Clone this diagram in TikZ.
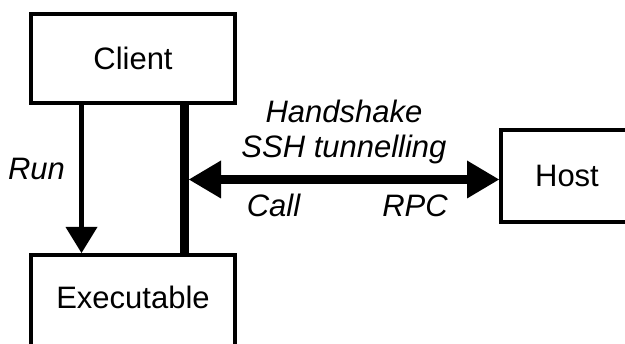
\documentclass[tikz,border=0pt]{standalone}
\usepackage{fontspec}
\setmainfont{Liberation Sans}
\usetikzlibrary{arrows.meta}
\begin{document}
\begin{tikzpicture}[x=1pt,y=1pt,
  every node/.style={font=\fontsize{31}{35}\selectfont},
  box/.style={draw, line width=4pt, inner sep=0pt},
  lbl/.style={font=\fontsize{31}{35}\selectfont\itshape, inner sep=0pt},
  thinarrow/.style={line width=4.5pt, -{Triangle[length=26pt,width=32pt,line width=0pt]}},
  thickline/.style={line width=9pt},
  thickarrow/.style={line width=9pt, {Triangle[length=32pt,width=38pt,line width=0pt]}-{Triangle[length=32pt,width=38pt,line width=0pt]}}]
\path[use as bounding box, fill=white] (0,0) rectangle (625,-344);
\node[box, minimum width=204pt, minimum height=89pt] (client) at (133,-58.5) {Client};
\node[box, minimum width=204pt, anchor=north, text height=54pt, text depth=200pt] (exec) at (133,-253) {Executable};
\node[box, minimum width=132pt, minimum height=92pt] (host) at (567,-176) {Host};
\coordinate (runx) at (81.5,0);
\coordinate (vx) at (184.5,0);
\coordinate (junction) at (189,-179.5);
\draw[thinarrow] (client.south -| runx) -- (exec.north -| runx);
\draw[thickline] (client.south -| vx) -- (exec.north -| vx);
\draw[thickarrow] (junction) -- (host.west |- junction);
\node[lbl, anchor=base] (run) at (36.5,-180) {Run};
\node[lbl, align=center] (hs) at (344,-131.5) {Handshake\\SSH tunnelling};
\node[lbl, anchor=base] (call) at (273.5,-217) {Call};
\node[lbl, anchor=base] (rpc) at (415,-217) {RPC};
\end{tikzpicture}
\end{document}
